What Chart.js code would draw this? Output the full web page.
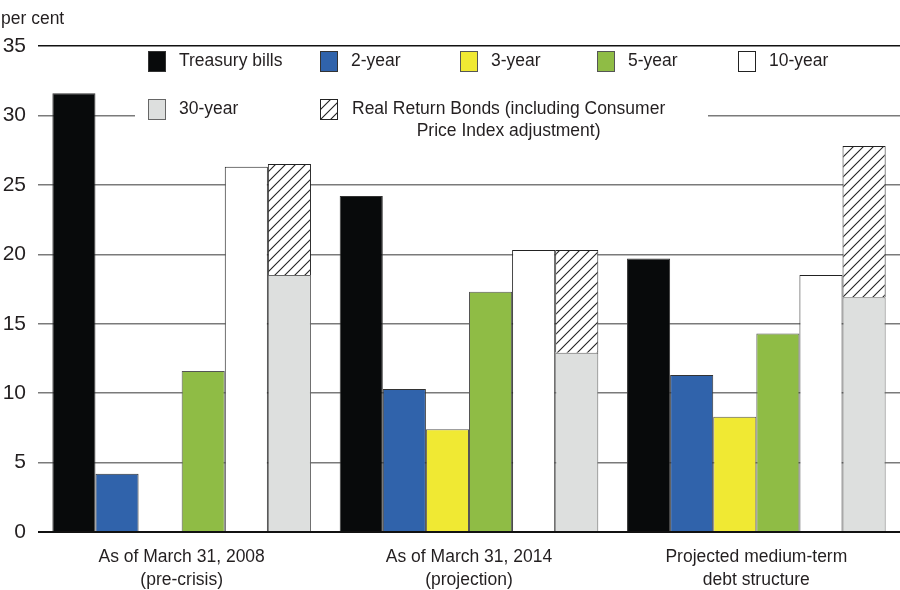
<!DOCTYPE html>
<html>
<head>
<meta charset="utf-8">
<script src="https://cdn.jsdelivr.net/npm/chart.js@4.4.0/dist/chart.umd.min.js"></script>
<style>
  body { margin: 0; background: #fff; }
  #wrap { position: relative; width: 900px; height: 590px; }
  #unit { position: absolute; left: 1px; top: 8px; font: 17.5px "Liberation Sans", Arial, sans-serif; color: #231f20; }
</style>
</head>
<body>
<div id="wrap">
  <canvas id="myChart" width="900" height="590"></canvas>
  <div id="unit">per cent</div>
</div>
<script>
var categories = [
    ['As of March 31, 2008', '(pre-crisis)'],
    ['As of March 31, 2014', '(projection)'],
    ['Projected medium-term', 'debt structure']
];
var treasuryBills = [31.6, 24.2, 19.7];
var twoYear = [4.2, 10.3, 11.3];
var threeYear = [null, 7.4, 8.3];
var fiveYear = [11.6, 17.3, 14.3];
var tenYear = [26.3, 20.3, 18.5];
var thirtyYear = [18.5, 12.9, 16.9];
// real return bonds sit on top of the 30-year bar
var realReturn = [8.0, 7.4, 10.9];
var yTicks = [0, 5, 10, 15, 20, 25, 30, 35];

var FONT = '"Liberation Sans", Arial, sans-serif';
var TEXT = '#231f20';

// diagonal hatch for the RRB piece
function makeHatch() {
    var c = document.createElement('canvas');
    c.width = 10;
    c.height = 10;
    var g = c.getContext('2d');
    g.fillStyle = '#fff';
    g.fillRect(0, 0, 10, 10);
    g.strokeStyle = '#222';
    g.lineWidth = 1.1;
    g.beginPath();
    g.moveTo(0, 10); g.lineTo(10, 0);
    g.moveTo(-5, 5); g.lineTo(5, -5);
    g.moveTo(5, 15); g.lineTo(15, 5);
    g.stroke();
    return g.createPattern(c, 'repeat');
}
var hatch = makeHatch();

var legendPlugin = {
    id: 'boxLegend',
    beforeDatasetsDraw: function(chart) {
        var ctx = chart.ctx;
        ctx.save();
        ctx.fillStyle = '#fff';
        ctx.fillRect(135, 49, 573, 94);
        var items = [
            {i: 0, x: 148, y: 51, text: ['Treasury bills']},
            {i: 1, x: 320, y: 51, text: ['2-year']},
            {i: 2, x: 460, y: 51, text: ['3-year']},
            {i: 3, x: 597, y: 51, text: ['5-year']},
            {i: 4, x: 738, y: 51, text: ['10-year']},
            {i: 5, x: 148, y: 99, text: ['30-year']},
            {i: 6, x: 320, y: 99, text: ['Real Return Bonds (including Consumer', 'Price Index adjustment)']}
        ];
        ctx.font = '17.5px ' + FONT;
        ctx.textBaseline = 'middle';
        items.forEach(function(it) {
            var ds = chart.data.datasets[it.i];
            ctx.fillStyle = ds.backgroundColor;
            ctx.fillRect(it.x, it.y, 18, 21);
            ctx.strokeStyle = ds.borderColor;
            ctx.lineWidth = 1;
            ctx.strokeRect(it.x + 0.5, it.y + 0.5, 17, 20);
            ctx.fillStyle = TEXT;
            if (it.text.length === 1) {
                ctx.textAlign = 'left';
                ctx.fillText(it.text[0], it.x + 31, it.y + 10.5);
            } else {
                ctx.textAlign = 'center';
                var w = ctx.measureText(it.text[0]).width;
                var cx = it.x + 32 + w / 2;
                ctx.fillText(it.text[0], cx, it.y + 10.5);
                ctx.fillText(it.text[1], cx, it.y + 32.5);
            }
        });
        ctx.restore();
    }
};

var ctx = document.getElementById('myChart').getContext('2d');
var chart = new Chart(ctx, {
    type: 'bar',
    data: {
        labels: categories,
        datasets: [
            {label: 'Treasury bills', data: treasuryBills, stack: 'a', backgroundColor: '#080a0b', borderColor: '#333'},
            {label: '2-year', data: twoYear, stack: 'b', backgroundColor: '#3063ab', borderColor: '#333'},
            {label: '3-year', data: threeYear, stack: 'c', backgroundColor: '#f0e933', borderColor: '#555'},
            {label: '5-year', data: fiveYear, stack: 'd', backgroundColor: '#8fbc45', borderColor: '#555'},
            {label: '10-year', data: tenYear, stack: 'e', backgroundColor: '#ffffff', borderColor: '#222'},
            {label: '30-year', data: thirtyYear, stack: 'f', backgroundColor: '#dddfde', borderColor: '#666'},
            {label: 'Real Return Bonds', data: realReturn, stack: 'f', backgroundColor: hatch, borderColor: '#222'}
        ]
    },
    options: {
        responsive: false,
        animation: false,
        devicePixelRatio: 1,
        layout: {padding: {top: 46, right: 0, bottom: 0, left: 0}},
        datasets: {
            bar: {borderWidth: 1, barPercentage: 1, categoryPercentage: 0.9}
        },
        plugins: {
            legend: {display: false},
            tooltip: {enabled: false}
        },
        scales: {
            x: {
                stacked: true,
                grid: {display: false},
                border: {display: false},
                ticks: {color: TEXT, font: {family: FONT, size: 17.5, lineHeight: 1.3}, padding: 6, maxRotation: 0},
                afterFit: function(s) { s.height = 58; }
            },
            y: {
                stacked: true,
                min: 0,
                max: 35,
                afterBuildTicks: function(s) { s.ticks = yTicks.map(function(v) { return {value: v}; }); },
                grid: {
                    drawTicks: false,
                    color: function(c) { return (c.tick.value === 0 || c.tick.value === 35) ? '#111' : '#7a7a7a'; },
                    lineWidth: function(c) { return c.tick.value === 0 ? 2 : 1.5; }
                },
                border: {display: false},
                ticks: {color: TEXT, font: {family: FONT, size: 21}, padding: 12},
                afterFit: function(s) { s.width = 38; }
            }
        }
    },
    plugins: [legendPlugin]
});
</script>
</body>
</html>
